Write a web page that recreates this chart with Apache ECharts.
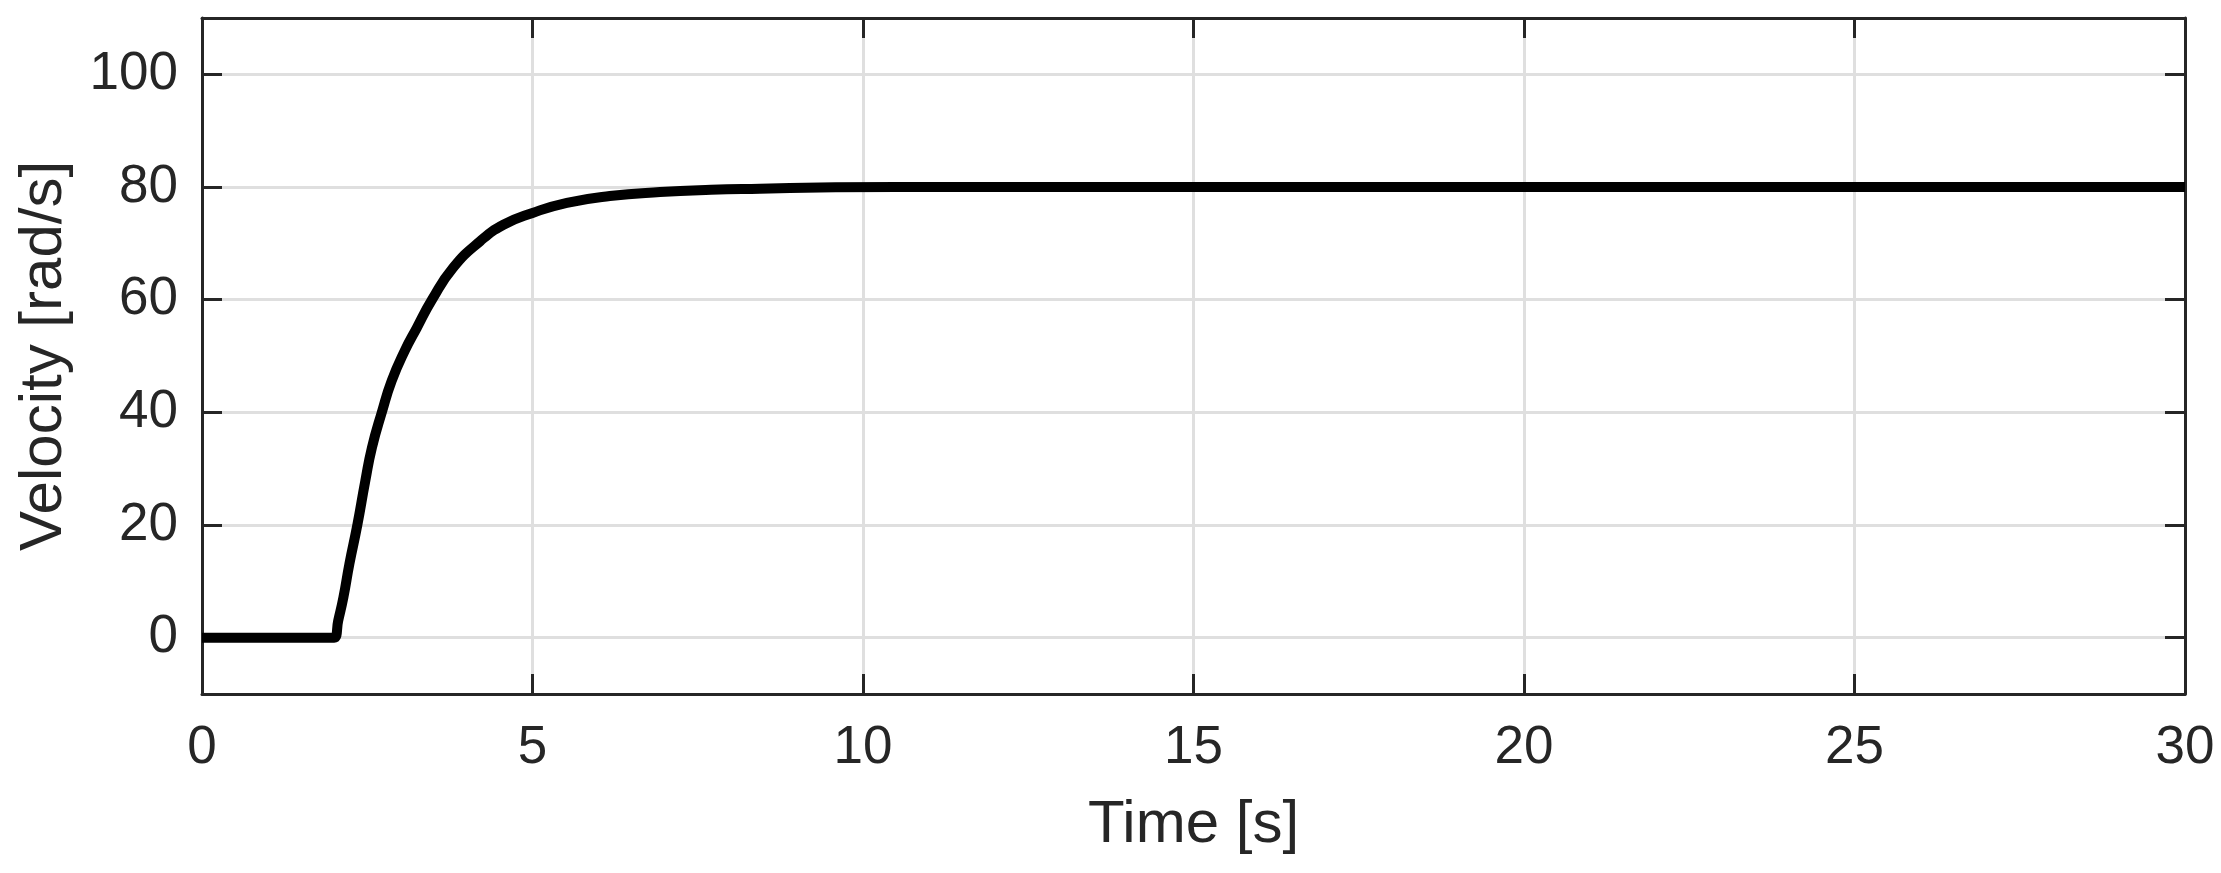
<!DOCTYPE html>
<html>
<head>
<meta charset="utf-8">
<script src="https://cdn.jsdelivr.net/npm/echarts@6/dist/echarts.min.js"></script>
<style>
html,body{margin:0;padding:0;background:#ffffff;}
#chart{width:2221px;height:873px;}
</style>
</head>
<body>
<div id="chart"></div>
<script>
// Time [s]
const timeS = [0, 1.9, 2.0, 2.06, 2.14, 2.23, 2.35, 2.47, 2.57, 2.72, 2.87, 3.07, 3.25, 3.48, 3.80, 4.21, 4.56, 5.00, 5.52, 6.17, 6.93, 7.70, 8.44, 9.35, 10.5, 30];
// Velocity [rad/s]
const velocity = [0, 0, 0, 3.0, 7.2, 13.1, 20.0, 27.8, 33.7, 40.0, 45.6, 51.0, 55.0, 60.0, 65.7, 70.4, 73.3, 75.4, 77.2, 78.4, 79.1, 79.5, 79.7, 79.9, 80.0, 80.0];

const xRange = [0, 30];
const xStep = 5;
const yRange = [-10, 110];

const AX = '#262626';
const GRID = '#dfdfdf';
const FONT = 'Liberation Sans';

const seriesData = timeS.map((t, i) => [t, velocity[i]]);

const chart = echarts.init(document.getElementById('chart'), null, {renderer: 'canvas'});

const tickStyle = {show: true, inside: true, length: 20, lineStyle: {color: AX, width: 3}};
const lineStyleAx = {show: true, onZero: false, lineStyle: {color: AX, width: 3}};

chart.setOption({
  animation: false,
  backgroundColor: '#ffffff',
  grid: {left: 202, right: 36, top: 18, bottom: 179, containLabel: false},
  xAxis: [
    {
      type: 'value', position: 'bottom', min: xRange[0], max: xRange[1], interval: xStep,
      axisLine: lineStyleAx, axisTick: tickStyle,
      axisLabel: {color: AX, fontSize: 53, fontFamily: FONT, margin: 28},
      splitLine: {show: true, lineStyle: {color: GRID, width: 3}},
      name: 'Time [s]', nameLocation: 'middle', nameGap: 101,
      nameTextStyle: {color: AX, fontSize: 60, fontFamily: FONT}
    },
    {
      type: 'value', position: 'top', min: xRange[0], max: xRange[1], interval: xStep,
      axisLine: lineStyleAx, axisTick: tickStyle,
      axisLabel: {show: false}, splitLine: {show: false}
    }
  ],
  yAxis: [
    {
      type: 'value', position: 'left', min: yRange[0], max: yRange[1],
      axisLine: lineStyleAx, axisTick: tickStyle,
      axisLabel: {color: AX, fontSize: 53, fontFamily: FONT, margin: 24, showMinLabel: false, showMaxLabel: false},
      splitLine: {show: true, lineStyle: {color: GRID, width: 3}},
      name: 'Velocity [rad/s]', nameLocation: 'middle', nameGap: 128,
      nameTextStyle: {color: AX, fontSize: 60, fontFamily: FONT}
    },
    {
      type: 'value', position: 'right', min: yRange[0], max: yRange[1],
      axisLine: lineStyleAx, axisTick: tickStyle,
      axisLabel: {show: false}, splitLine: {show: false}
    }
  ],
  series: [
    {
      type: 'line', xAxisIndex: 0, yAxisIndex: 0,
      data: seriesData, showSymbol: false, symbol: 'none',
      smooth: 0.5,
      lineStyle: {color: '#000000', width: 10, cap: 'butt', join: 'round'},
      z: 3
    }
  ]
});
</script>
</body>
</html>
